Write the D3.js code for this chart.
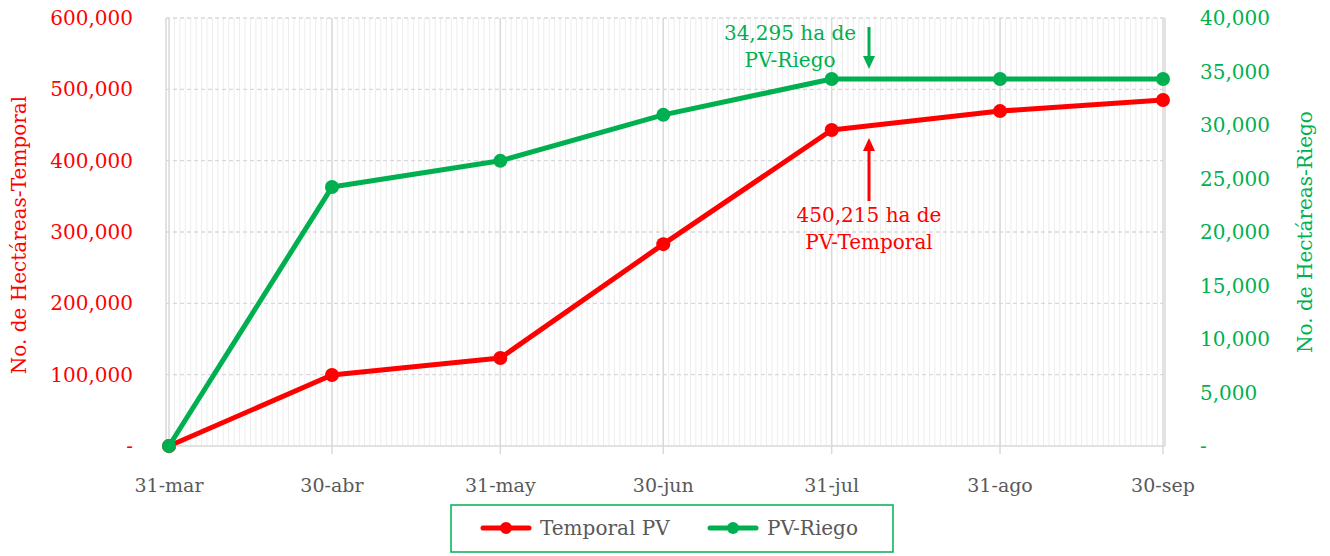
<!DOCTYPE html>
<html>
<head>
<meta charset="utf-8">
<script src="https://cdn.jsdelivr.net/npm/d3@7"></script>
<style>
  body { margin: 0; background: #fff; }
  text { font-family: "DejaVu Serif", serif; }
</style>
</head>
<body>
<div id="chart"></div>
<script>
// fechas de corte y etiquetas del eje x
var fechas = ["2023-03-31", "2023-04-30", "2023-05-31", "2023-06-30", "2023-07-31", "2023-08-31", "2023-09-30"];
var etiquetas = ["31-mar", "30-abr", "31-may", "30-jun", "31-jul", "31-ago", "30-sep"];
// hectareas acumuladas
var temporal = [0, 99500, 123400, 283000, 443000, 469500, 485000];
var riego = [0, 24200, 26650, 30950, 34295, 34295, 34295];
var ticksIzq = [0, 100000, 200000, 300000, 400000, 500000, 600000];
var ticksDer = [0, 5000, 10000, 15000, 20000, 25000, 30000, 35000, 40000];

var rojo = "#FF0000";
var verde = "#00B050";
var gris = "#595959";

var W = 1330, H = 556;
var pLeft = 166, pRight = 1165, pTop = 18, pBottom = 446;

var svg = d3.select("#chart").append("svg").attr("width", W).attr("height", H);

var parse = d3.timeParse("%Y-%m-%d");
var dates = fechas.map(parse);

var x = d3.scaleTime().domain([dates[0], dates[dates.length - 1]]).range([169, 1163]);
var yL = d3.scaleLinear().domain([0, 600000]).range([pBottom, pTop]);
var yR = d3.scaleLinear().domain([0, 40000]).range([pBottom, pTop]);

var fmt = function(v) { return v === 0 ? "-" : d3.format(",")(v); };

// rejilla menor diaria
var dias = d3.timeDay.range(d3.timeDay.offset(dates[0], 1), dates[dates.length - 1]);
svg.append("g").selectAll("line").data(dias).enter().append("line")
  .attr("x1", d => x(d)).attr("x2", d => x(d))
  .attr("y1", pTop).attr("y2", pBottom)
  .attr("stroke", "#ededed").attr("stroke-width", 1);

// rejilla horizontal punteada
svg.append("g").selectAll("line").data(ticksIzq).enter().append("line")
  .attr("x1", pLeft).attr("x2", pRight)
  .attr("y1", d => yL(d)).attr("y2", d => yL(d))
  .attr("stroke", "#d9d9d9").attr("stroke-width", 1.3)
  .attr("stroke-dasharray", d => d === 0 ? null : "4,3");

// rejilla vertical mayor
svg.append("g").selectAll("line").data(dates).enter().append("line")
  .attr("x1", d => x(d)).attr("x2", d => x(d))
  .attr("y1", pTop).attr("y2", pBottom + 8)
  .attr("stroke", "#d9d9d9").attr("stroke-width", 1.5);

// bordes laterales
svg.append("line").attr("x1", pLeft).attr("x2", pLeft).attr("y1", pTop).attr("y2", pBottom)
  .attr("stroke", "#d9d9d9").attr("stroke-width", 1.5);
svg.append("line").attr("x1", pRight).attr("x2", pRight).attr("y1", pTop).attr("y2", pBottom)
  .attr("stroke", "#d9d9d9").attr("stroke-width", 1.5);

// eje x
svg.append("g").selectAll("text").data(dates).enter().append("text")
  .attr("x", d => x(d)).attr("y", 492)
  .attr("text-anchor", "middle").attr("fill", gris).attr("font-size", 19)
  .text((d, i) => etiquetas[i]);

// eje izquierdo
svg.append("g").selectAll("text").data(ticksIzq).enter().append("text")
  .attr("x", 133).attr("y", d => yL(d) + 7)
  .attr("text-anchor", "end").attr("fill", rojo).attr("font-size", 20)
  .text(fmt);

// eje derecho
svg.append("g").selectAll("text").data(ticksDer).enter().append("text")
  .attr("x", 1200).attr("y", d => yR(d) + 7)
  .attr("text-anchor", "start").attr("fill", verde).attr("font-size", 20)
  .text(fmt);

// titulos de ejes
svg.append("text").attr("transform", "translate(26,235) rotate(-90)")
  .attr("text-anchor", "middle").attr("fill", rojo).attr("font-size", 20)
  .text("No. de Hectáreas-Temporal");
svg.append("text").attr("transform", "translate(1312,232) rotate(-90)")
  .attr("text-anchor", "middle").attr("fill", verde).attr("font-size", 20)
  .text("No. de Hectáreas-Riego");

// series
function serie(vals, y, color) {
  var datos = vals.map((v, i) => ({ d: dates[i], v: v }));
  svg.append("path").datum(datos)
    .attr("d", d3.line().x(p => x(p.d)).y(p => y(p.v)))
    .attr("fill", "none").attr("stroke", color).attr("stroke-width", 5)
    .attr("stroke-linejoin", "round");
  svg.append("g").selectAll("circle").data(datos).enter().append("circle")
    .attr("cx", p => x(p.d)).attr("cy", p => y(p.v)).attr("r", 7)
    .attr("fill", color);
}
serie(temporal, yL, rojo);
serie(riego, yR, verde);

// anotaciones
function flecha(xa, y1, y2, color) {
  var dir = y2 > y1 ? 1 : -1;
  svg.append("line").attr("x1", xa).attr("x2", xa).attr("y1", y1).attr("y2", y2 - dir * 10)
    .attr("stroke", color).attr("stroke-width", 3);
  svg.append("path")
    .attr("d", "M" + (xa - 6) + "," + (y2 - dir * 13) + "L" + (xa + 6) + "," + (y2 - dir * 13) + "L" + xa + "," + y2 + "Z")
    .attr("fill", color);
}
flecha(869, 27, 69, verde);
flecha(869, 201, 138, rojo);

svg.append("text").attr("x", 790).attr("y", 40).attr("text-anchor", "middle")
  .attr("fill", verde).attr("font-size", 20).text("34,295 ha de");
svg.append("text").attr("x", 790).attr("y", 67).attr("text-anchor", "middle")
  .attr("fill", verde).attr("font-size", 20).text("PV-Riego");
svg.append("text").attr("x", 869).attr("y", 222).attr("text-anchor", "middle")
  .attr("fill", rojo).attr("font-size", 20).text("450,215 ha de");
svg.append("text").attr("x", 869).attr("y", 249).attr("text-anchor", "middle")
  .attr("fill", rojo).attr("font-size", 20).text("PV-Temporal");

// leyenda
svg.append("rect").attr("x", 451).attr("y", 505).attr("width", 442).attr("height", 47)
  .attr("fill", "#fff").attr("stroke", verde).attr("stroke-width", 1.5);
var items = [{ n: "Temporal PV", c: rojo, x: 483 }, { n: "PV-Riego", c: verde, x: 710 }];
var lg = svg.append("g").selectAll("g").data(items).enter().append("g");
lg.append("line").attr("x1", d => d.x).attr("x2", d => d.x + 46).attr("y1", 528).attr("y2", 528)
  .attr("stroke", d => d.c).attr("stroke-width", 5).attr("stroke-linecap", "round");
lg.append("circle").attr("cx", d => d.x + 23).attr("cy", 528).attr("r", 6).attr("fill", d => d.c);
lg.append("text").attr("x", d => d.x + 57).attr("y", 535).attr("fill", gris).attr("font-size", 20)
  .text(d => d.n);
</script>
</body>
</html>
